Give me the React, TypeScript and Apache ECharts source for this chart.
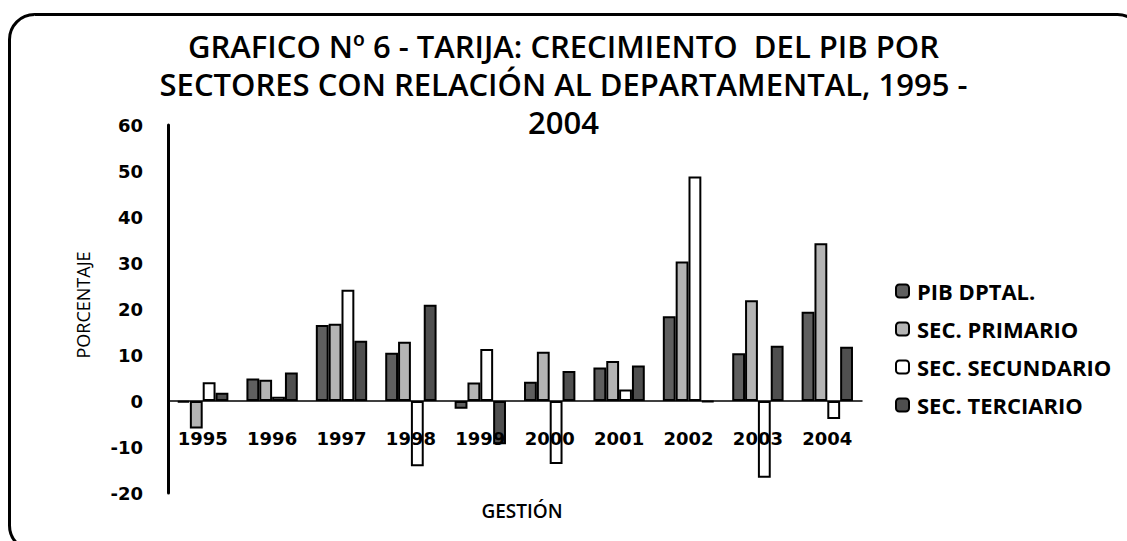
import React, { useEffect, useRef } from "react";
import * as echarts from "echarts";

const years = ["1995", "1996", "1997", "1998", "1999", "2000", "2001", "2002", "2003", "2004"];
const pibDptal = [-0.3, 4.9, 16.5, 10.5, -1.7, 4.2, 7.3, 18.4, 10.4, 19.4];
const secPrimario = [-6.0, 4.6, 16.8, 12.9, 4.0, 10.7, 8.7, 30.3, 21.9, 34.3];
const secSecundario = [4.1, 0.9, 24.2, -14.2, 11.3, -13.7, 2.5, 48.8, -16.7, -3.9];
const secTerciario = [1.8, 6.2, 13.1, 20.9, -9.4, 6.5, 7.7, -0.2, 12.0, 11.8];

const seriesNames = ["PIB DPTAL.", "SEC. PRIMARIO", "SEC. SECUNDARIO", "SEC. TERCIARIO"];
const seriesColors = ["#5f5f5f", "#b4b4b4", "#ffffff", "#4f4f4f"];
const seriesData = [pibDptal, secPrimario, secSecundario, secTerciario];

const titleText =
  "GRAFICO Nº 6 - TARIJA: CRECIMIENTO  DEL PIB POR\nSECTORES CON RELACIÓN AL DEPARTAMENTAL, 1995 -\n2004";

export default function App() {
  const ref = useRef<HTMLDivElement>(null);
  useEffect(() => {
    if (!ref.current) return;
    const chart = echarts.init(ref.current, null, { renderer: "svg" });
    chart.setOption({
      animation: false,
      backgroundColor: "#ffffff",
      title: {
        text: titleText,
        left: "center",
        top: 27,
        padding: 0,
        textStyle: {
          fontFamily: "Open Sans",
          fontWeight: 600,
          fontSize: 31,
          lineHeight: 38,
          color: "#000",
        },
      },
      legend: {
        orient: "vertical",
        left: 895,
        top: 280,
        padding: 0,
        itemWidth: 13,
        itemHeight: 13,
        itemGap: 16,
        data: seriesNames,
        textStyle: {
          fontFamily: "Open Sans",
          fontWeight: "bold",
          fontSize: 22,
          lineHeight: 22,
          color: "#000",
          padding: [0, 0, 0, 3],
        },
      },
      grid: { left: 168, top: 125, width: 694, height: 368 },
      xAxis: {
        type: "category",
        data: years,
        z: 5,
        axisLine: { show: true, onZero: true, lineStyle: { color: "#000", width: 1.5 } },
        axisTick: { show: false },
        axisLabel: {
          margin: -64,
          fontFamily: "DejaVu Sans",
          fontWeight: "bold",
          fontSize: 18,
          color: "#000",
        },
        splitLine: { show: false },
      },
      yAxis: {
        type: "value",
        min: -20,
        max: 60,
        interval: 10,
        axisLine: { show: true, onZero: false, lineStyle: { color: "#000", width: 3 } },
        axisTick: { show: false },
        splitLine: { show: false },
        axisLabel: {
          margin: 25,
          fontFamily: "DejaVu Sans",
          fontWeight: "bold",
          fontSize: 18,
          color: "#000",
        },
      },
      series: seriesNames.map((name, i) => ({
        name,
        type: "bar",
        data: seriesData[i],
        barGap: "0%",
        barCategoryGap: "26%",
        itemStyle: { color: seriesColors[i], borderColor: "#000", borderWidth: 2 },
      })),
      graphic: [
        {
          type: "rect",
          shape: { x: 9.5, y: 14.5, width: 1133, height: 536, r: 25 },
          style: { fill: "none", stroke: "#000", lineWidth: 3 },
          silent: true,
        },
        {
          type: "text",
          x: 83,
          y: 305,
          rotation: Math.PI / 2,
          style: {
            text: "PORCENTAJE",
            fontFamily: "Open Sans",
            fontSize: 18,
            fill: "#000",
            textAlign: "center",
            textVerticalAlign: "middle",
          },
        },
        {
          type: "text",
          x: 522,
          y: 511,
          style: {
            text: "GESTIÓN",
            fontFamily: "Open Sans",
            fontWeight: 600,
            fontSize: 19,
            fill: "#000",
            textAlign: "center",
            textVerticalAlign: "middle",
          },
        },
      ],
    });
    return () => chart.dispose();
  }, []);
  return (
    <div
      ref={ref}
      style={{ position: "fixed", left: 0, top: 0, width: 1127, height: 541 }}
    />
  );
}
